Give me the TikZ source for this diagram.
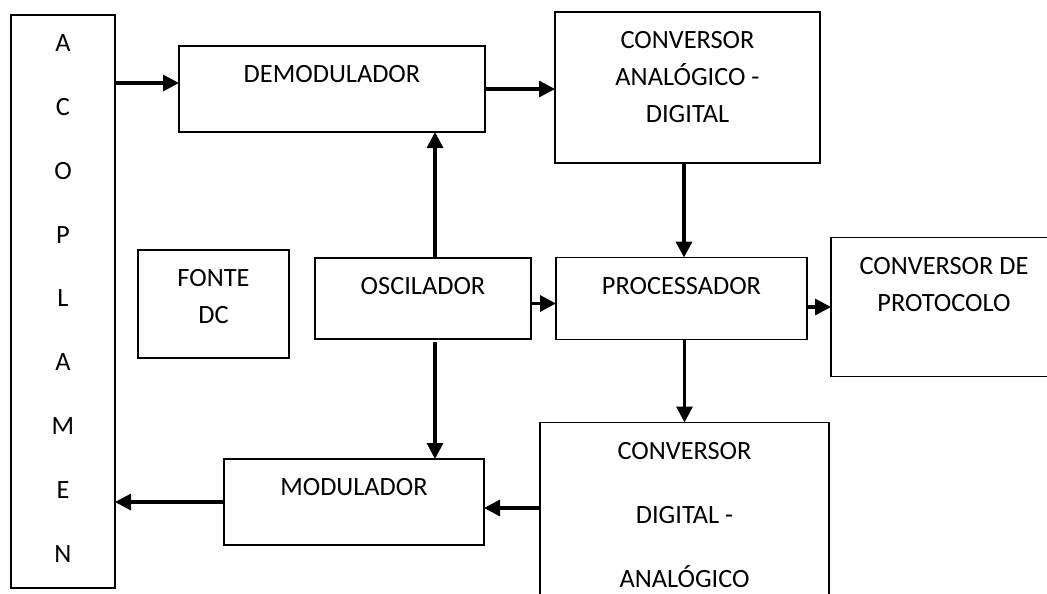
\documentclass[tikz,border=0pt]{standalone}
\usepackage{fontspec}
\setmainfont{Carlito}
\usetikzlibrary{positioning,arrows.meta,calc}
\tikzset{
  blk/.style     = {draw, line width=0.9pt, inner sep=0pt, outer sep=0pt},
  blktxt/.style  = {anchor=north, align=center, inner sep=0pt,
                    font=\fontsize{15}{21}\selectfont},
  blkwide/.style = {blktxt, font=\fontsize{15}{36.3}\selectfont},
  conn/.style    = {-{Triangle[length=3.2mm,width=3.2mm]}, line width=1.8pt}
}
\begin{document}
\begin{tikzpicture}[x=1mm, y=1mm]
  \path[use as bounding box, clip] (0,0) rectangle (209.4,-118.6);

  % coupler, left column
  \node[blk, minimum width=20.8mm, minimum height=114.6mm, anchor=north west,
        label={[blkwide, yshift=-3.9mm]north:A\\C\\O\\P\\L\\A\\M\\E\\N}]
        (acop) at (2.2,-3) {};

  % receive chain
  \node[blk, minimum width=61.2mm, minimum height=17.2mm,
        below right=6.2mm and 12.8mm of acop.north east,
        label={[blktxt, yshift=-3.9mm]north:DEMODULADOR}] (demod) {};
  \node[blk, minimum width=53mm, minimum height=30.2mm,
        right=14mm of demod, yshift=0.3mm,
        label={[blktxt, yshift=-3.9mm]north:CONVERSOR\\ANALÓGICO -\\DIGITAL}] (ad) {};

  % middle row
  \node[blk, minimum width=43.2mm, minimum height=16.2mm,
        below right=25.2mm and 27.2mm of demod.south west,
        label={[blktxt, yshift=-3.9mm]north:OSCILADOR}] (osc) {};
  \node[blk, minimum width=30.2mm, minimum height=21.6mm,
        left=5.2mm of osc, yshift=-1.1mm,
        label={[blktxt, yshift=-3.9mm]north:FONTE\\DC}] (fonte) {};
  \node[blk, minimum width=50.2mm, minimum height=16.4mm,
        right=5mm of osc,
        label={[blktxt, yshift=-3.9mm]north:PROCESSADOR}] (proc) {};
  \node[blk, minimum width=45.2mm, minimum height=27.8mm,
        right=4.8mm of proc, yshift=-1.7mm,
        label={[blktxt, yshift=-3.9mm]north:CONVERSOR DE\\PROTOCOLO}] (proto) {};

  % transmit chain
  \node[blk, minimum width=57.8mm, minimum height=40mm,
        below=16.6mm of proc, xshift=0.6mm,
        label={[blkwide, yshift=-3.9mm]north:CONVERSOR\\DIGITAL -\\ANALÓGICO}] (da) {};
  \node[blk, minimum width=52mm, minimum height=17.2mm,
        below=24mm of osc, xshift=-13.8mm,
        label={[blktxt, yshift=-3.9mm]north:MODULADOR}] (mod) {};

  % connections
  \draw[conn] ($(acop.east |- demod.west)+(0,1.2)$) -- ($(demod.west)+(0,1.2)$);
  \draw[conn] (demod.east) -- (demod.east -| ad.west);
  \draw[conn] ($(ad.south)+(-0.7,0)$) -- ($(ad.south |- proc.north)+(-0.7,0)$);
  \draw[conn] ($(osc.north)+(2.4,0)$) -- ($(osc.north |- demod.south)+(2.4,0)$);
  \draw[conn] ($(osc.east)+(0,-1)$) -- ($(osc.east -| proc.west)+(0,-1)$);
  \draw[conn] (proc.east |- proto.west) -- (proto.west);
  \draw[conn] (da.north |- proc.south) -- (da.north);
  \draw[conn] ($(osc.south)+(2.4,-0.6)$) -- ($(osc.south |- mod.north)+(2.4,0)$);
  \draw[conn] ($(da.west |- mod.east)+(0,-1.2)$) -- ($(mod.east)+(0,-1.2)$);
  \draw[conn] (mod.west) -- (mod.west -| acop.east);
\end{tikzpicture}
\end{document}
